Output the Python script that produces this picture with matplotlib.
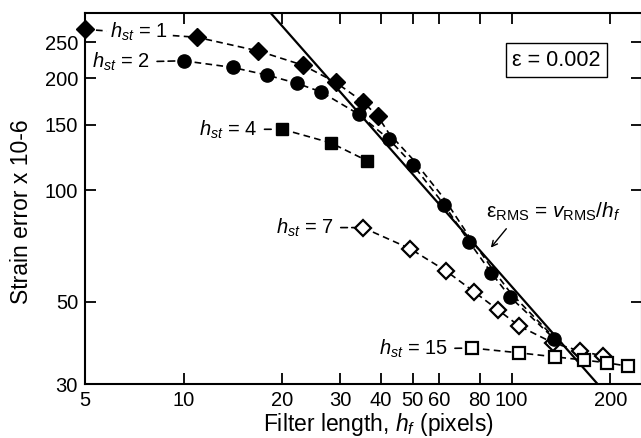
import matplotlib
matplotlib.use("Agg")
from matplotlib import pyplot as plt
import matplotlib.ticker as ticker

plt.rcParams['font.family'] = ['Liberation Sans', 'DejaVu Sans']
plt.rcParams['mathtext.fontset'] = 'custom'
plt.rcParams['mathtext.rm'] = 'Liberation Sans'
plt.rcParams['mathtext.it'] = 'Liberation Sans:italic'

# strain error (x 1e-6) against filter length h_f (pixels), one series per h_st
hf_1 = [5, 11.0, 16.9, 23.1, 29.1, 35.2, 39.1, 42.3, 50, 62.2, 74.2, 86.6, 99, 135]
err_1 = [271, 258, 237, 217, 195, 173, 158, 142, 121, 95, 75, 62, 53, 40]
n_marked_1 = 7

hf_2 = [10.0, 14.1, 18.0, 22.1, 26.2, 34.2, 42.3, 50, 62.2, 74.2, 86.6, 99, 135]
err_2 = [223, 214, 204, 194, 184, 160, 137, 117, 91.4, 72.6, 59.9, 51.5, 39.7]

hf_4 = [20, 28.1, 36.2]
err_4 = [145.8, 134, 120]

hf_7 = [35.2, 49.0, 63.0, 76.8, 91, 105.5, 134, 162, 190.5]
err_7 = [79.2, 69.5, 60.6, 53.2, 47.5, 43.0, 38.7, 36.8, 35.7]

hf_15 = [75.7, 105.5, 136, 166.6, 196, 227]
err_15 = [37.5, 36.4, 35.5, 34.8, 34.2, 33.5]

# eps_RMS = v_RMS / h_f, straight line of slope -1
rms_hf = [18.3, 183]
rms_err = [302, 30]

xticks = [5, 10, 20, 30, 40, 50, 60, 80, 100, 200]
yticks = [30, 50, 100, 150, 200, 250]

fig = plt.figure(figsize=(6.41, 4.38), dpi=100)
ax = fig.add_axes([85/641, 54/438, 557/641, 371/438])
ax.set_xscale('log')
ax.set_yscale('log')
ax.set_xlim(5, 250)
ax.set_ylim(30, 300)

dash = (0, (4, 2.6))
ax.plot(rms_hf, rms_err, color='black', lw=1.6, zorder=2)
ax.plot(hf_1, err_1, color='black', lw=1.2, ls=dash, marker='D', ms=9.5,
        markevery=list(range(n_marked_1)), zorder=3, clip_on=False)
ax.plot(hf_2, err_2, color='black', lw=1.2, ls=dash, marker='o', ms=9.5, zorder=4)
ax.plot(hf_4, err_4, color='black', lw=1.2, ls=dash, marker='s', ms=8.5, zorder=3)
ax.plot(hf_7, err_7, color='black', lw=1.2, ls=dash, marker='D', ms=8,
        mfc='white', mew=1.6, zorder=3)
ax.plot(hf_15, err_15, color='black', lw=1.2, ls=dash, marker='s', ms=8,
        mfc='white', mew=1.6, zorder=3)

fs = 14.5
ax.text(7.3, 267, r'$h_{st}$ = 1', fontsize=fs, ha='center', va='center', zorder=5,
        bbox=dict(facecolor='white', edgecolor='none', pad=2))

leader = dict(arrowstyle='-', linestyle=dash, lw=1.2, shrinkA=3, shrinkB=6, color='black')
ax.annotate(r'$h_{st}$ = 2', xy=(hf_2[0], err_2[0]), xytext=(7.9, 221), fontsize=fs,
            ha='right', va='center', arrowprops=leader)
ax.annotate(r'$h_{st}$ = 4', xy=(hf_4[0], err_4[0]), xytext=(16.8, 145.7), fontsize=fs,
            ha='right', va='center', arrowprops=leader)
ax.annotate(r'$h_{st}$ = 7', xy=(hf_7[0], err_7[0]), xytext=(28.7, 79.2), fontsize=fs,
            ha='right', va='center', arrowprops=leader)
ax.annotate(r'$h_{st}$ = 15', xy=(hf_15[0], err_15[0]), xytext=(64, 37.3), fontsize=fs,
            ha='right', va='center', arrowprops=leader)

ax.text(137, 224, 'ε = 0.002', fontsize=15.5, ha='center', va='center',
        bbox=dict(boxstyle='square,pad=0.3', facecolor='white', edgecolor='black', lw=1))

ax.text(134, 87.5, r'ε$_{\mathrm{RMS}}$ = $v_{\mathrm{RMS}}/h_f$', fontsize=15,
        ha='center', va='center')
ax.annotate('', xy=(85.4, 69), xytext=(97.6, 79.7),
            arrowprops=dict(arrowstyle='->', lw=1, color='black'))

ax.xaxis.set_major_locator(ticker.FixedLocator(xticks))
ax.xaxis.set_major_formatter(ticker.FixedFormatter([str(t) for t in xticks]))
ax.xaxis.set_minor_locator(ticker.NullLocator())
ax.yaxis.set_major_locator(ticker.FixedLocator(yticks))
ax.yaxis.set_major_formatter(ticker.FixedFormatter([str(t) for t in yticks]))
ax.yaxis.set_minor_locator(ticker.NullLocator())
ax.tick_params(direction='in', length=8, width=1.3, top=True, right=True,
               labelsize=fs, pad=5)
for s in ax.spines.values():
    s.set_linewidth(1.5)

fig.text(22/641, 1 - 212/438, 'Strain error x 10-6', fontsize=16.5, rotation=90,
         ha='center', va='center')
fig.text(378/641, 1 - 424/438, r'Filter length, $h_f$ (pixels)', fontsize=16.5,
         ha='center', va='center')

fig.savefig('out.png', dpi=100)
